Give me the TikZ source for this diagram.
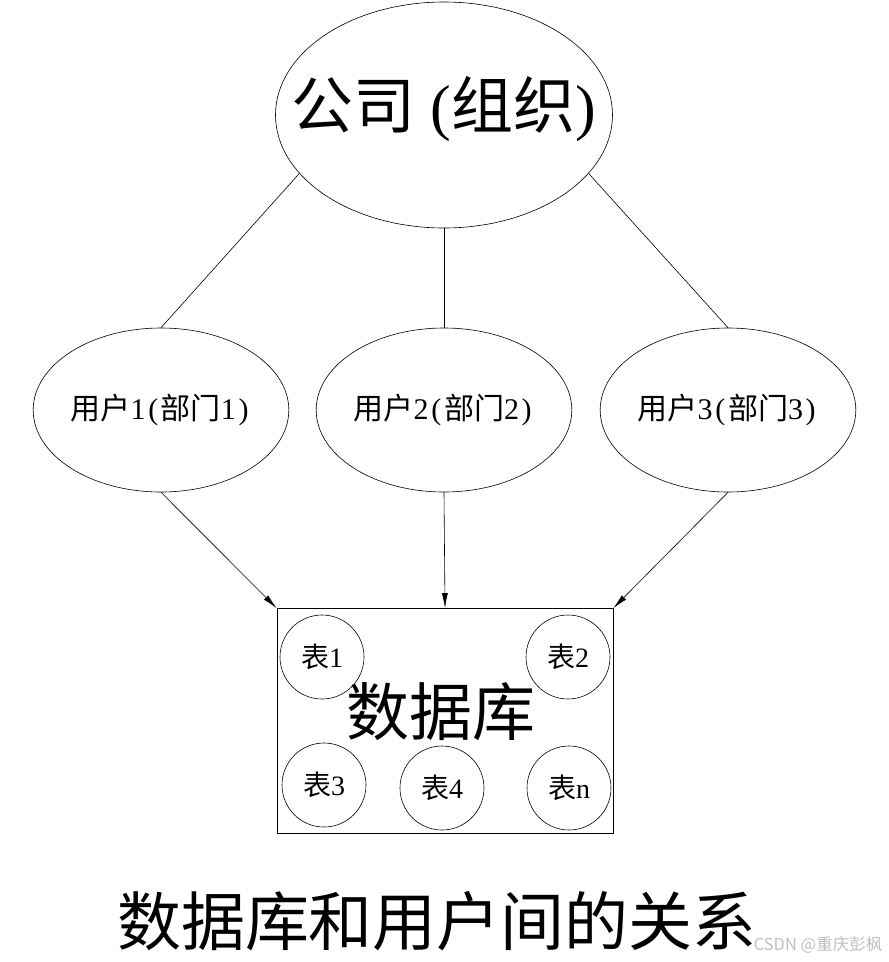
\documentclass[tikz,border=0pt]{standalone}
\usepackage{fontspec}
\setmainfont{Liberation Serif}
\newfontfamily\cjk{Noto Sans CJK SC}
\usepackage{tikz}
\usetikzlibrary{shapes.geometric}
\usetikzlibrary{arrows.meta}
\tikzset{
  bigoval/.style={shape=ellipse,draw,line width=0.6pt,minimum width=337pt,minimum height=226pt,inner sep=0pt},
  useroval/.style={shape=ellipse,draw,line width=0.6pt,minimum width=252pt,minimum height=164pt,inner sep=0pt,font=\fontsize{30}{32}\selectfont},
  tablecirc/.style={shape=circle,draw,line width=0.6pt,minimum size=84pt,inner sep=0pt,font=\fontsize{28}{30}\selectfont},
  dbbox/.style={draw,line width=0.7pt,minimum width=336pt,minimum height=225pt,inner sep=0pt},
  link/.style={line width=0.6pt},
  feed/.style={line width=0.6pt,-{Latex[length=15pt,width=6pt]}}
}
\newcommand{\zh}[1]{{\cjk #1}}
\newcommand{\lpar}{\kern0.09em(\kern0.09em}
\newcommand{\rpar}{\kern0.09em)\kern0.09em}
\begin{document}
\begin{tikzpicture}[x=1pt,y=-1pt]
\useasboundingbox (0,0) rectangle (889,962);
% company on top
\node[bigoval] (company) at (444,115) {};
\node[font=\fontsize{62}{66}\selectfont] (companylabel) at (444,109) {\zh{公司}\hspace{0.24em}(\zh{组织})};
% users (departments)
\node[useroval] (user1) at (161,410) {\zh{用户}1\lpar\zh{部门}1\rpar};
\node[useroval] (user2) at (444,410) {\zh{用户}2\lpar\zh{部门}2\rpar};
\node[useroval] (user3) at (728,410) {\zh{用户}3\lpar\zh{部门}3\rpar};
% database with its tables
\node[dbbox] (db) at (445,721) {};
\node[font=\fontsize{63}{66}\selectfont] (dblabel) at (441,712) {\zh{数据库}};
\node[tablecirc] (t1) at (322,657) {\zh{表}1};
\node[tablecirc] (t2) at (568,657) {\zh{表}2};
\node[tablecirc] (t3) at (324,785) {\zh{表}3};
\node[tablecirc] (t4) at (442,788) {\zh{表}4};
\node[tablecirc] (tn) at (569,788) {\zh{表}n};
% lines from company to users
\draw[link] (company.202) -- (user1.north);
\draw[link] (company.south) -- (user2.north);
\draw[link] (company.-22) -- (user3.north);
% arrows from users to database
\draw[feed] (user1.south) -- (db.north west);
\draw[feed] (user2.south) -- (db.north);
\draw[feed] (user3.south) -- (db.north east);
% caption
\node[font=\fontsize{64}{68}\selectfont] (caption) at (437,921) {\zh{数据库和用户间的关系}};
\node[font=\fontsize{16.5}{18}\selectfont\cjk,text=black!25] (mark) at (818,945) {CSDN @重庆彭枫};
\end{tikzpicture}
\end{document}
